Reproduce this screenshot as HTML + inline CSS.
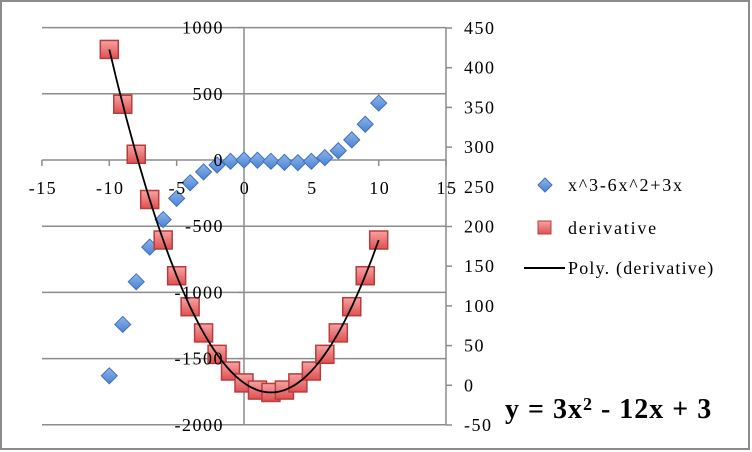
<!DOCTYPE html>
<html><head><style>body{margin:0;background:#fff}svg{display:block}</style></head><body>
<svg width="752" height="452" xmlns="http://www.w3.org/2000/svg" font-family="Liberation Serif, serif">
<defs>
<linearGradient id="rg" x1="0" y1="0" x2="0" y2="1"><stop offset="0" stop-color="#f6a3a3"/><stop offset="1" stop-color="#e05050"/></linearGradient>
<linearGradient id="bg" x1="0" y1="0" x2="0" y2="1"><stop offset="0" stop-color="#8fb4ea"/><stop offset="1" stop-color="#4a82d2"/></linearGradient>
</defs>
<rect x="1" y="1" width="748" height="448" fill="#fff" stroke="#8c8c8c" stroke-width="2"/>
<g stroke="#8c8c8c" stroke-width="1.5" fill="none" id="grid"></g>
<g id="pts"></g>
<g font-size="18" fill="#000" letter-spacing="1.5" id="lbl"></g>
<g font-size="18" letter-spacing="1.8">
<path d="M545 178 L552 185 L545 192 L538 185Z" fill="url(#bg)" stroke="#3e72bd"/>
<text x="568" y="191">x^3-6x^2+3x</text>
<rect x="538" y="221" width="13" height="13" fill="url(#rg)" stroke="#b83c3c"/>
<text x="568" y="234">derivative</text>
<line x1="524" y1="268" x2="565" y2="268" stroke="#000" stroke-width="2"/>
<text x="568" y="274" letter-spacing="1.2">Poly. (derivative)</text>
</g>
<text x="505" y="418" font-size="28" font-weight="bold" letter-spacing="1">y = 3x<tspan font-size="18" dy="-8">2</tspan><tspan dy="8"> - 12x + 3</tspan></text>
<script>
var ns="http://www.w3.org/2000/svg";
function X(x){return 244+x*13.47}
function Y1(v){return 160-v*0.1324}
function Y2(v){return 28+(450-v)*0.794}
function el(t,a,p){var e=document.createElementNS(ns,t);for(var k in a)e.setAttribute(k,a[k]);document.getElementById(p).appendChild(e);return e}
var g="grid";
for(var v=1000;v>=-2000;v-=500){el("line",{x1:42,x2:446,y1:Y1(v),y2:Y1(v)},g);}
el("line",{x1:244,x2:244,y1:28,y2:425},g);
el("line",{x1:446,x2:446,y1:28,y2:425},g);
for(var t=-15;t<=15;t+=5){el("line",{x1:X(t),x2:X(t),y1:160,y2:166},g);}
for(var v=450;v>=-50;v-=50){el("line",{x1:446,x2:452,y1:Y2(v),y2:Y2(v)},g);}
for(var v=1000;v>=-2000;v-=500){el("line",{x1:238,x2:244,y1:Y1(v),y2:Y1(v)},g);var e=el("text",{x:224,y:Y1(v)+6,"text-anchor":"end"},"lbl");e.textContent=v;}
for(var t=-15;t<=15;t+=5){var e=el("text",{x:X(t)+1,y:194,"text-anchor":"middle"},"lbl");e.textContent=t;}
for(var v=450;v>=-50;v-=50){var e=el("text",{x:464,y:Y2(v)+6},"lbl");e.textContent=v;}
var d="";for(var x=-10;x<=10.001;x+=0.25){d+=(d?"L":"M")+X(x).toFixed(1)+" "+Y2(3*x*x-12*x+3).toFixed(1);}
for(var x=-10;x<=10;x++){var v=x*x*x-6*x*x+3*x,cx=X(x),cy=Y1(v);
el("path",{d:"M"+cx+" "+(cy-8)+"L"+(cx+8)+" "+cy+"L"+cx+" "+(cy+8)+"L"+(cx-8)+" "+cy+"Z",fill:"url(#bg)",stroke:"#3e72bd","stroke-width":1},"pts");}
for(var x=-10;x<=10;x++){var v=3*x*x-12*x+3,cx=X(x),cy=Y2(v);
el("rect",{x:cx-9,y:cy-9,width:18,height:18,fill:"url(#rg)",stroke:"#b83c3c","stroke-width":1.5},"pts");}
el("path",{d:d,fill:"none",stroke:"#000","stroke-width":1.8},"pts");
</script>
</svg>
</body></html>
